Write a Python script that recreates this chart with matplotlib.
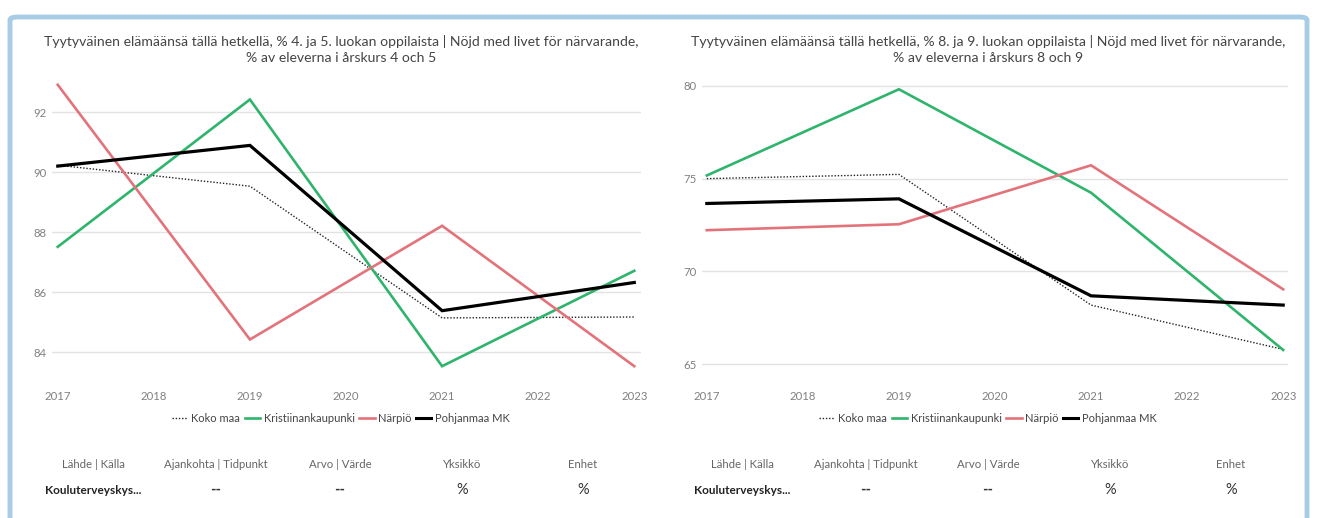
import matplotlib.pyplot as plt
from matplotlib.patches import FancyBboxPatch
from matplotlib.lines import Line2D

plt.rcParams['font.family'] = ['Lato', 'DejaVu Sans']

years = [2017, 2019, 2021, 2023]
all_years = [2017, 2018, 2019, 2020, 2021, 2022, 2023]
series_names = ['Koko maa', 'Kristiinankaupunki', 'Närpiö', 'Pohjanmaa MK']

# grades 4 and 5
koko_45 = [90.23, 89.53, 85.14, 85.17]
kristiinankaupunki_45 = [87.51, 92.42, 83.53, 86.71]
narpio_45 = [92.91, 84.42, 88.21, 83.53]
pohjanmaa_45 = [90.20, 90.89, 85.38, 86.32]

# grades 8 and 9
koko_89 = [75.0, 75.23, 68.18, 65.79]
kristiinankaupunki_89 = [75.17, 79.82, 74.24, 65.76]
narpio_89 = [72.22, 72.54, 75.72, 69.03]
pohjanmaa_89 = [73.66, 73.91, 68.68, 68.18]

yticks_45 = [84, 86, 88, 90, 92]
yticks_89 = [65, 70, 75, 80]

title_45 = ('Tyytyväinen elämäänsä tällä hetkellä, % 4. ja 5. luokan oppilaista | Nöjd med livet för närvarande,\n'
            '% av eleverna i årskurs 4 och 5')
title_89 = ('Tyytyväinen elämäänsä tällä hetkellä, % 8. ja 9. luokan oppilaista | Nöjd med livet för närvarande,\n'
            '% av eleverna i årskurs 8 och 9')

table_headers = ['Lähde | Källa', 'Ajankohta | Tidpunkt', 'Arvo | Värde', 'Yksikkö', 'Enhet']
table_values = ['Kouluterveyskys...', '--', '--', '%', '%']

GREEN = '#2fb46c'
RED = '#e3737b'
GRAY = '#808080'
W, H = 1317, 518

styles = [dict(color='#222222', lw=1.0, ls=(0, (1, 1.3))),
          dict(color=GREEN, lw=1.9, ls='-'),
          dict(color=RED, lw=1.9, ls='-'),
          dict(color='black', lw=2.3, ls='-')]

fig = plt.figure(figsize=(W / 100, H / 100), dpi=100)
fig.patch.set_facecolor('white')

# card frame
frame = FancyBboxPatch((10 / W, -0.05), 1297 / W, 1.05 - 17 / H,
                       boxstyle='round,pad=0,rounding_size=0.006',
                       transform=fig.transFigure, facecolor='white',
                       edgecolor='#a6cde5', linewidth=3.5, zorder=-10)
fig.patches.append(frame)


def px_axes(x0, x1, y0, y1):
    return fig.add_axes([x0 / W, 1 - y1 / H, (x1 - x0) / W, (y1 - y0) / H])


def draw_panel(ax, data, yticks, ylim, xlim, title, cx):
    for vals, st in zip(data, styles):
        ax.plot(years, vals, color=st['color'], lw=st['lw'], ls=st['ls'],
                solid_joinstyle='miter', zorder=3 if st['color'] == 'black' and st['lw'] > 2 else 2)
    ax.set_xlim(*xlim)
    ax.set_ylim(*ylim)
    ax.set_xticks(all_years)
    ax.set_yticks(yticks)
    ax.tick_params(length=0, labelsize=8.2, labelcolor=GRAY, pad=4)
    ax.tick_params(axis='x', pad=8)
    ax.grid(axis='y', color='#e3e3e3', lw=1)
    for s in ax.spines.values():
        s.set_visible(False)
    ax.set_facecolor('none')
    fig.text(cx / W, 1 - 50 / H, title, ha='center', va='center', fontsize=10.1,
             color='#444444', linespacing=1.4)
    handles = [Line2D([], [], color=st['color'], lw=st['lw'] if st['lw'] < 2 else 2.2, ls=st['ls'])
               for st in styles]
    fig.legend(handles, series_names, loc='center', bbox_to_anchor=(cx / W, 1 - 418 / H),
               ncol=4, frameon=False, fontsize=8, handlelength=1.4, handletextpad=0.3,
               columnspacing=0.4, labelcolor='#444444')


ax1 = px_axes(52, 641, 80, 380)
draw_panel(ax1, [koko_45, kristiinankaupunki_45, narpio_45, pohjanmaa_45], yticks_45,
           (83.07, 93.07), (2016.94, 2023.07), title_45, 341)

ax2 = px_axes(702, 1288, 80, 380)
draw_panel(ax2, [koko_89, kristiinankaupunki_89, narpio_89, pohjanmaa_89], yticks_89,
           (64.14, 80.32), (2016.95, 2023.05), title_89, 988)

# info tables
cols_left = [93, 216, 340, 462, 583]
cols_right = [742, 866, 988, 1110, 1231]
for cols in (cols_left, cols_right):
    for i, (hd, val) in enumerate(zip(table_headers, table_values)):
        fig.text(cols[i] / W, 1 - 465 / H, hd, ha='center', va='center', fontsize=8.2, color='#666666')
        if i == 0:
            fig.text(cols[i] / W, 1 - 490 / H, val, ha='center', va='center', fontsize=8.5,
                     color='#222222', fontweight='bold')
        else:
            fig.text(cols[i] / W, 1 - 490 / H, val, ha='center', va='center', fontsize=10.5,
                     color='#333333', fontweight='bold' if val == '--' else 'normal')

fig.savefig('out.png', dpi=100)
